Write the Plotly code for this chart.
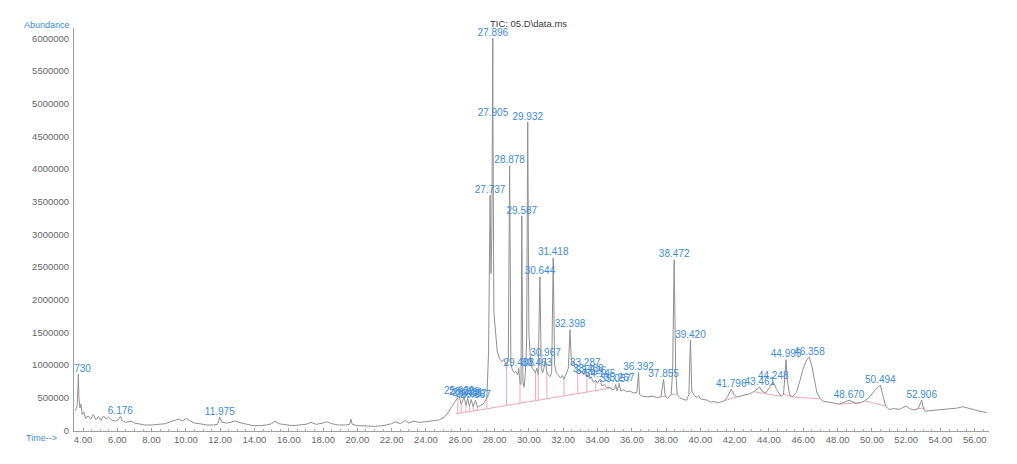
import plotly.graph_objects as go

# ---- TIC chromatogram (retention time in min, abundance in counts x 1e6) ----
rt = [3.55, 3.65, 3.70, 3.73, 3.76, 3.82, 3.88, 3.95, 4.05, 4.15, 4.30, 4.45, 4.60, 4.75,
      4.90, 5.05, 5.20, 5.35, 5.50, 5.70, 5.90, 6.05, 6.176, 6.30, 6.50, 6.80, 7.00, 7.30,
      7.60, 8.00, 8.40, 8.80, 9.10, 9.40, 9.60, 9.80, 10.00, 10.20, 10.50, 10.80, 11.20,
      11.60, 11.85, 11.975, 12.10, 12.40, 12.70, 12.90, 13.10, 13.50, 13.90, 14.30, 14.70,
      15.00, 15.20, 15.40, 15.80, 16.20, 16.60, 17.00, 17.30, 17.60, 18.00, 18.20, 18.50,
      18.90, 19.30, 19.55, 19.62, 19.70, 20.00, 20.50, 21.00, 21.50, 22.00, 22.20, 22.50,
      22.80, 23.00, 23.30, 23.60, 24.00, 24.40, 24.80, 25.10, 25.30, 25.50, 25.70, 25.85,
      25.939, 26.05, 26.229, 26.33, 26.431, 26.53, 26.637, 26.75, 26.887, 27.00, 27.20,
      27.40, 27.55, 27.65, 27.737, 27.79, 27.84, 27.896, 27.905, 27.96, 28.05, 28.15, 28.25,
      28.40, 28.55, 28.70, 28.80, 28.878, 28.95, 29.05, 29.15, 29.25, 29.35, 29.408, 29.48,
      29.54, 29.587, 29.65, 29.72, 29.80, 29.87, 29.932, 30.00, 30.10, 30.20, 30.30, 30.38,
      30.463, 30.54, 30.644, 30.72, 30.80, 30.88, 30.967, 31.05, 31.15, 31.25, 31.33, 31.418,
      31.50, 31.60, 31.70, 31.85, 31.95, 32.05, 32.15, 32.30, 32.398, 32.48, 32.60, 32.70,
      32.85, 33.00, 33.10, 33.20, 33.287, 33.38, 33.466, 33.55, 33.626, 33.75, 33.90, 34.00,
      34.145, 34.25, 34.40, 34.55, 34.70, 34.85, 35.00, 35.057, 35.15, 35.267, 35.35, 35.50,
      35.70, 35.90, 36.10, 36.30, 36.392, 36.45, 36.60, 36.90, 37.20, 37.50, 37.70, 37.855,
      37.95, 38.10, 38.30, 38.38, 38.472, 38.56, 38.65, 38.80, 39.00, 39.20, 39.33, 39.420,
      39.50, 39.65, 39.80, 39.90, 40.00, 40.20, 40.40, 40.60, 40.80, 41.00, 41.20, 41.40,
      41.60, 41.796, 41.95, 42.10, 42.30, 42.60, 42.90, 43.10, 43.30, 43.461, 43.60, 43.80,
      44.00, 44.248, 44.45, 44.70, 44.85, 44.95, 44.995, 45.05, 45.20, 45.35, 45.60, 45.80,
      46.00, 46.20, 46.358, 46.50, 46.65, 46.80, 47.00, 47.20, 47.50, 47.80, 48.10, 48.40,
      48.670, 48.90, 49.10, 49.30, 49.60, 49.90, 50.20, 50.494, 50.65, 50.80, 51.00, 51.30,
      51.60, 51.80, 52.00, 52.20, 52.45, 52.70, 52.80, 52.906, 53.00, 53.10, 53.40, 53.80,
      54.20, 54.60, 55.00, 55.30, 55.60, 55.90, 56.30, 56.70]

abundance = [0.30, 0.36, 0.62, 0.86, 0.50, 0.34, 0.40, 0.24, 0.28, 0.18, 0.22, 0.17, 0.24, 0.16,
             0.21, 0.15, 0.22, 0.17, 0.20, 0.15, 0.14, 0.16, 0.21, 0.14, 0.12, 0.14, 0.11, 0.09,
             0.08, 0.08, 0.09, 0.10, 0.13, 0.15, 0.17, 0.14, 0.18, 0.15, 0.11, 0.10, 0.08,
             0.08, 0.09, 0.20, 0.12, 0.11, 0.13, 0.14, 0.12, 0.09, 0.07, 0.07, 0.08,
             0.10, 0.14, 0.10, 0.08, 0.07, 0.08, 0.09, 0.12, 0.09, 0.11, 0.13, 0.10,
             0.08, 0.08, 0.09, 0.17, 0.09, 0.07, 0.06, 0.06, 0.07, 0.10, 0.13, 0.10,
             0.15, 0.11, 0.14, 0.12, 0.13, 0.14, 0.16, 0.21, 0.27, 0.36, 0.45, 0.50,
             0.52, 0.40, 0.50, 0.38, 0.49, 0.37, 0.47, 0.36, 0.46, 0.35, 0.38,
             0.42, 0.50, 1.20, 3.60, 2.40, 3.00, 6.00, 4.77, 1.80, 1.50, 1.22, 1.12,
             1.05, 1.08, 0.98, 1.10, 4.05, 1.00, 0.92, 0.88, 0.90, 0.85, 0.95, 0.72,
             0.70, 3.28, 0.75, 0.66, 0.90, 1.40, 4.72, 1.50, 1.05, 0.95, 0.92, 0.88,
             0.95, 0.85, 2.35, 0.95, 0.88, 0.95, 1.10, 0.88, 0.84, 0.82, 0.90, 2.64,
             1.00, 0.88, 0.85, 0.80, 0.84, 0.78, 0.85, 0.95, 1.54, 1.00, 1.05, 0.95,
             0.92, 0.88, 0.90, 0.85, 0.95, 0.82, 0.86, 0.79, 0.82, 0.74, 0.76, 0.72,
             0.78, 0.68, 0.70, 0.65, 0.66, 0.62, 0.63, 0.70, 0.60, 0.72, 0.60, 0.62,
             0.59, 0.60, 0.57, 0.58, 0.88, 0.55, 0.52, 0.51, 0.52, 0.50, 0.51, 0.78,
             0.52, 0.49, 0.55, 0.90, 2.61, 0.90, 0.55, 0.50, 0.47, 0.46, 0.55, 1.38,
             0.60, 0.53, 0.50, 0.53, 0.48, 0.47, 0.46, 0.43, 0.44, 0.42, 0.43, 0.45,
             0.52, 0.63, 0.55, 0.51, 0.52, 0.54, 0.56, 0.59, 0.63, 0.66, 0.60, 0.57,
             0.64, 0.74, 0.62, 0.52, 0.55, 0.90, 1.08, 0.80, 0.54, 0.51, 0.58, 0.75,
             0.95, 1.08, 1.12, 0.98, 0.75, 0.57, 0.48, 0.44, 0.43, 0.41, 0.40, 0.43,
             0.46, 0.43, 0.41, 0.42, 0.45, 0.52, 0.62, 0.69, 0.50, 0.37, 0.32, 0.33,
             0.32, 0.35, 0.37, 0.33, 0.31, 0.33, 0.40, 0.46, 0.34, 0.29, 0.30, 0.31,
             0.32, 0.33, 0.34, 0.36, 0.34, 0.31, 0.29, 0.27]

# ---- integrated peaks: retention-time labels ----
peak_labels = ["3.730", "6.176", "11.975", "25.939", "26.229", "26.431", "26.637", "26.887",
               "27.737", "27.896", "27.905", "28.878", "29.408", "29.587", "29.932", "30.463",
               "30.644", "30.967", "31.418", "32.398", "33.287", "33.466", "33.626", "34.145",
               "35.057", "35.267", "36.392", "37.855", "38.472", "39.420", "41.796", "43.461",
               "44.248", "44.995", "46.358", "48.670", "50.494", "52.906"]

# ---- integration baseline (pink) across the main cluster ----
base_rt = [25.75, 34.90]
base_ab = [0.25, 0.65]

# drop lines at peak boundaries: time, baseline level
drop_rt = [25.85, 26.05, 26.33, 26.53, 26.75, 27.00, 27.55, 28.70, 29.48, 30.38, 30.54,
           31.05, 32.05, 32.85, 33.38, 33.90]
drop_base = [0.254, 0.263, 0.275, 0.284, 0.294, 0.305, 0.329, 0.379, 0.413, 0.451, 0.458,
             0.480, 0.524, 0.559, 0.582, 0.605]

# short baselines under the late-eluting peaks
late_base_rt = [[37.70, 38.00], [38.30, 38.65], [39.33, 39.50], [41.40, 42.10],
                [43.10, 44.70], [44.85, 45.35], [45.35, 47.00], [48.10, 49.30],
                [49.60, 50.80], [52.70, 53.10]]
late_base_ab = [[0.51, 0.52], [0.55, 0.55], [0.55, 0.60], [0.45, 0.51],
                [0.59, 0.52], [0.55, 0.51], [0.51, 0.48], [0.40, 0.42],
                [0.45, 0.37], [0.33, 0.34]]

M = 1e6
BLUE = "#3d8bd6"
GRAY_TXT = "#666666"
PINK = "#f3a6b6"
FONT = "Liberation Sans, Arial, sans-serif"

fig = go.Figure()

# pink integration baseline and drop lines
fig.add_trace(go.Scatter(x=base_rt, y=[v * M for v in base_ab], mode="lines",
                         line=dict(color=PINK, width=1), hoverinfo="skip", showlegend=False))
drop_x, drop_y = [], []
for t, b in zip(drop_rt, drop_base):
    top = abundance[rt.index(t)]
    drop_x += [t, t, None]
    drop_y += [b * M, top * M, None]
fig.add_trace(go.Scatter(x=drop_x, y=drop_y, mode="lines",
                         line=dict(color=PINK, width=1), hoverinfo="skip", showlegend=False))
lb_x, lb_y = [], []
for xs, ys in zip(late_base_rt, late_base_ab):
    lb_x += xs + [None]
    lb_y += [v * M for v in ys] + [None]
fig.add_trace(go.Scatter(x=lb_x, y=lb_y, mode="lines",
                         line=dict(color=PINK, width=1), hoverinfo="skip", showlegend=False))

# the TIC trace
fig.add_trace(go.Scatter(x=rt, y=[v * M for v in abundance], mode="lines",
                         line=dict(color="#909090", width=1), showlegend=False))

# peak labels placed at each apex
lab_t = [float(s) for s in peak_labels]
lab_y = [abundance[rt.index(t)] * M for t in lab_t]
first = 1  # the 3.730 label sits against the y axis and is clipped by it
fig.add_trace(go.Scatter(x=lab_t[:first], y=lab_y[:first], mode="text", text=peak_labels[:first],
                         textposition="top center", cliponaxis=True,
                         textfont=dict(family=FONT, size=10, color=BLUE),
                         hoverinfo="skip", showlegend=False))
fig.add_trace(go.Scatter(x=lab_t[first:], y=lab_y[first:], mode="text", text=peak_labels[first:],
                         textposition="top center", cliponaxis=False,
                         textfont=dict(family=FONT, size=10, color=BLUE),
                         hoverinfo="skip", showlegend=False))

x_ticks = [4 + 2 * i for i in range(27)]
y_ticks = [i * 500000 for i in range(13)]

fig.update_layout(
    width=1017, height=464, autosize=False,
    margin=dict(l=74, r=28, t=28, b=33),
    paper_bgcolor="white", plot_bgcolor="white",
    font=dict(family=FONT, color=GRAY_TXT),
    xaxis=dict(range=[3.475, 56.83], tickvals=x_ticks,
               ticktext=[f"{v:.2f}" for v in x_ticks],
               showgrid=False, zeroline=False, showline=True, linecolor="#a0a0a0", linewidth=1,
               ticks="inside", ticklen=3, tickcolor="#a0a0a0",
               minor=dict(dtick=0.5, ticks="inside", ticklen=2, tickcolor="#b0b0b0"),
               tickfont=dict(size=9.5, color=GRAY_TXT)),
    yaxis=dict(range=[-0.012 * M, 6.16 * M], tickvals=y_ticks,
               ticktext=[str(v) for v in y_ticks],
               showgrid=False, zeroline=False, showline=True, linecolor="#a0a0a0", linewidth=1,
               ticks="", ticklabelstandoff=2,
               tickfont=dict(size=9.5, color=GRAY_TXT)),
    annotations=[
        dict(text="Abundance", xref="paper", yref="paper", x=-0.0568, y=1.008,
             xanchor="left", yanchor="middle", showarrow=False,
             font=dict(family=FONT, size=9, color=BLUE)),
        dict(text="Time-->", xref="paper", yref="paper", x=-0.0546, y=-0.0174,
             xanchor="left", yanchor="middle", showarrow=False,
             font=dict(family=FONT, size=9, color=BLUE)),
        dict(text="TIC: 05.D\\data.ms", xref="paper", yref="paper", x=0.453, y=1.012,
             xanchor="left", yanchor="middle", showarrow=False,
             font=dict(family=FONT, size=9.5, color="#3a3a3a")),
    ],
)

fig.write_html("out.html")
